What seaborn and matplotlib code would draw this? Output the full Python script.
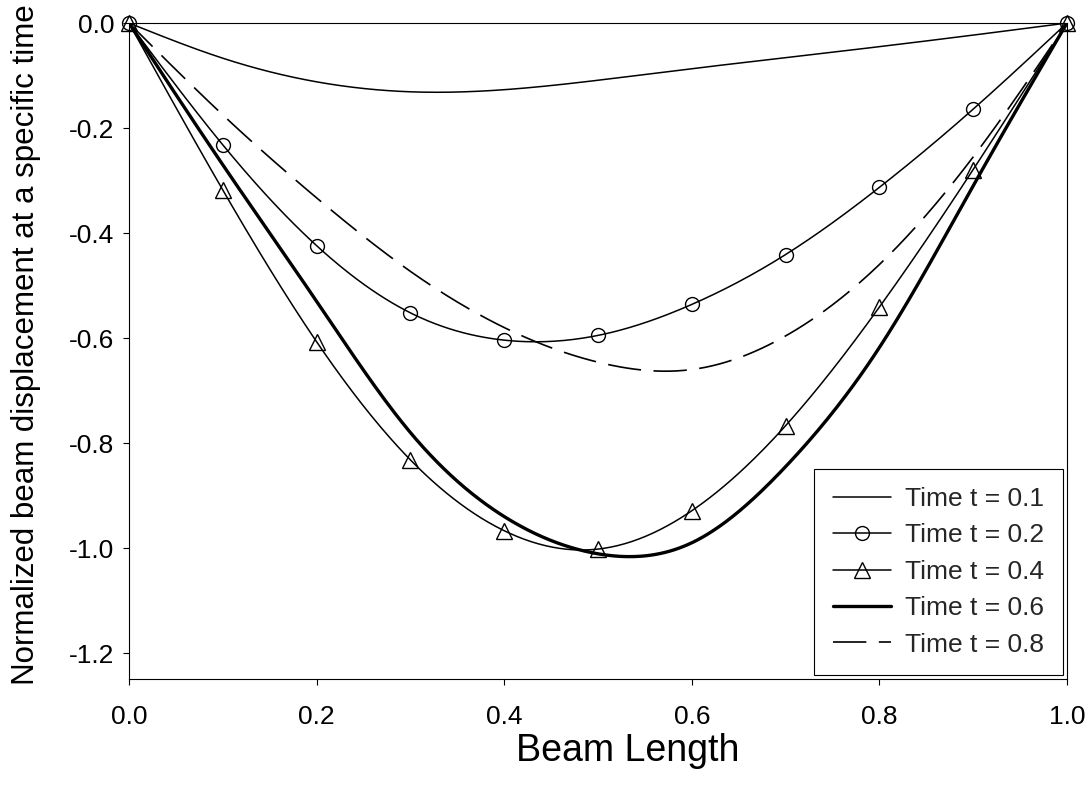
import numpy as np
import matplotlib
matplotlib.use("Agg")
import matplotlib.pyplot as plt
import seaborn as sns
from matplotlib.lines import Line2D
from matplotlib.ticker import FormatStrFormatter

# Beam positions (normalized) where the displacement was sampled
beam_x = [0.0, 0.1, 0.2, 0.3, 0.4, 0.5, 0.6, 0.7, 0.8, 0.9, 1.0]

# Normalized displacement along the beam at each time
disp_t01 = [0.0, -0.067, -0.112, -0.131, -0.127, -0.109, -0.087, -0.066, -0.045, -0.023, 0.0]
disp_t02 = [0.0, -0.232, -0.424, -0.552, -0.604, -0.595, -0.536, -0.441, -0.313, -0.164, 0.0]
disp_t04 = [0.0, -0.318, -0.607, -0.832, -0.967, -1.002, -0.929, -0.767, -0.541, -0.279, 0.0]
disp_t06 = [0.0, -0.270, -0.530, -0.780, -0.940, -1.011, -0.990, -0.845, -0.618, -0.310, 0.0]
disp_t08 = [0.0, -0.175, -0.333, -0.473, -0.580, -0.646, -0.660, -0.596, -0.460, -0.255, 0.0]

series_labels = ["Time t = 0.1", "Time t = 0.2", "Time t = 0.4", "Time t = 0.6", "Time t = 0.8"]
x_ticks = [0.0, 0.2, 0.4, 0.6, 0.8, 1.0]
y_ticks = [0.0, -0.2, -0.4, -0.6, -0.8, -1.0, -1.2]


def smooth_curve(x, y, n=400):
    """Natural cubic spline through the samples, for a smooth drawn line."""
    x = np.asarray(x, float)
    y = np.asarray(y, float)
    m = len(x)
    h = np.diff(x)
    A = np.zeros((m, m))
    r = np.zeros(m)
    A[0, 0] = A[-1, -1] = 1.0
    for i in range(1, m - 1):
        A[i, i - 1] = h[i - 1]
        A[i, i] = 2 * (h[i - 1] + h[i])
        A[i, i + 1] = h[i]
        r[i] = 3 * ((y[i + 1] - y[i]) / h[i] - (y[i] - y[i - 1]) / h[i - 1])
    c = np.linalg.solve(A, r)
    b = (y[1:] - y[:-1]) / h - h * (2 * c[:-1] + c[1:]) / 3
    d = (c[1:] - c[:-1]) / (3 * h)
    xs = np.linspace(x[0], x[-1], n)
    idx = np.clip(np.searchsorted(x, xs, side="right") - 1, 0, m - 2)
    dx = xs - x[idx]
    ys = y[idx] + b[idx] * dx + c[idx] * dx ** 2 + d[idx] * dx ** 3
    return xs, ys


sns.set_style("ticks")
plt.rcParams["font.family"] = ["Liberation Sans", "DejaVu Sans"]
plt.rcParams["axes.unicode_minus"] = False

fig = plt.figure(figsize=(10.92, 7.94), dpi=100)
ax = fig.add_axes([0.1181, 0.1448, 0.8590, 0.8262])

series = [disp_t01, disp_t02, disp_t04, disp_t06, disp_t08]
dash = (0, (20, 7.5))
line_styles = [
    dict(lw=1.1, ls="-"),
    dict(lw=1.1, ls="-"),
    dict(lw=1.1, ls="-"),
    dict(lw=2.4, ls="-"),
    dict(lw=1.2, ls=dash),
]
markers = [None, "o", "^", None, None]
marker_sizes = [0, 10, 11, 0, 0]

for vals, st, mk, ms in zip(series, line_styles, markers, marker_sizes):
    xs, ys = smooth_curve(beam_x, vals)
    sns.lineplot(x=xs, y=ys, ax=ax, color="black", linewidth=st["lw"],
                 linestyle=st["ls"], sort=False, estimator=None, legend=False)
    if mk is not None:
        ax.plot(beam_x, vals, linestyle="none", marker=mk, markersize=ms,
                markerfacecolor="none", markeredgecolor="black",
                markeredgewidth=1.0, clip_on=False, zorder=5)

ax.set_xlim(0.0, 1.0)
ax.set_ylim(-1.2495, 0.0)
ax.set_xticks(x_ticks)
ax.set_yticks(y_ticks)
ax.xaxis.set_major_formatter(FormatStrFormatter("%.1f"))
ax.yaxis.set_major_formatter(FormatStrFormatter("%.1f"))
ax.tick_params(axis="both", direction="out", length=4.5, width=0.8,
               labelsize=19, colors="black", top=False, right=False)
ax.tick_params(axis="x", pad=14)
ax.tick_params(axis="y", pad=6)
for sp in ax.spines.values():
    sp.set_visible(True)
    sp.set_linewidth(0.8)
    sp.set_color("black")

ax.set_xlabel("Beam Length", fontsize=27, labelpad=3, color="black")
ax.xaxis.label.set_x(0.532)
ax.set_ylabel("Normalized beam displacement at a specific time",
              fontsize=22.5, labelpad=20, color="black")
ax.yaxis.label.set_y(0.51)

handles = [
    Line2D([], [], color="black", lw=1.1),
    Line2D([], [], color="black", lw=1.1, marker="o", markersize=10,
           markerfacecolor="none", markeredgecolor="black", markeredgewidth=1.0),
    Line2D([], [], color="black", lw=1.1, marker="^", markersize=11,
           markerfacecolor="none", markeredgecolor="black", markeredgewidth=1.0),
    Line2D([], [], color="black", lw=2.4),
    Line2D([], [], color="black", lw=1.2, ls=dash),
]
leg = ax.legend(handles, series_labels, loc="lower right", fontsize=19,
                frameon=True, fancybox=False, edgecolor="black", framealpha=1,
                borderpad=0.7, labelspacing=0.47, handlelength=2.2,
                handletextpad=0.55, borderaxespad=0.15, numpoints=1)
leg.get_frame().set_linewidth(0.8)

fig.savefig("out.png", dpi=100, facecolor="white")
